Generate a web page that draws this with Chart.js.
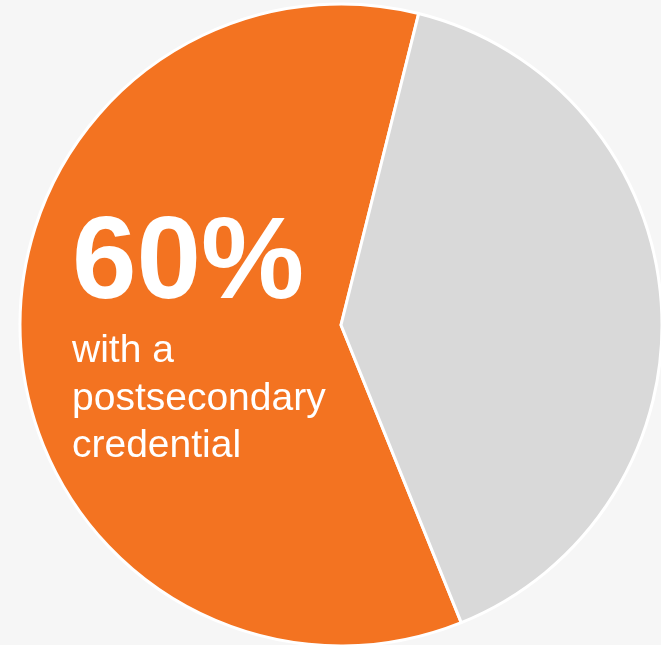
<!DOCTYPE html>
<html>
<head>
<meta charset="utf-8">
<script src="https://cdn.jsdelivr.net/npm/chart.js@4/dist/chart.umd.min.js"></script>
<style>
  html, body { margin: 0; padding: 0; background: #f6f6f6; }
  #wrap { position: relative; width: 661px; height: 645px; }
  canvas { display: block; }
</style>
</head>
<body>
<div id="wrap"><canvas id="c" width="661" height="645"></canvas></div>
<script>
const categories = ["With a postsecondary credential", "Without a postsecondary credential"];
const values = [60, 40];
const sliceColors = ["#f37321", "#d9d9d9"];
const bigLabel = "60%";
const subLabelLines = ["with a", "postsecondary", "credential"];

const textPlugin = {
  id: 'centerText',
  afterDatasetsDraw(chart) {
    const ctx = chart.ctx;
    ctx.save();
    ctx.fillStyle = '#ffffff';
    ctx.textAlign = 'left';
    ctx.textBaseline = 'alphabetic';
    ctx.font = 'bold 116px "Liberation Sans", Arial, sans-serif';
    ctx.fillText(bigLabel, 72, 298);
    ctx.font = '39px "Liberation Sans", Arial, sans-serif';
    const baselines = [362, 410, 457];
    subLabelLines.forEach((t, i) => ctx.fillText(t, 72, baselines[i]));
    ctx.restore();
  }
};

new Chart(document.getElementById('c'), {
  type: 'pie',
  data: {
    labels: categories,
    datasets: [{
      data: values,
      backgroundColor: sliceColors,
      borderColor: '#ffffff',
      borderWidth: 3,
      radius: 321
    }]
  },
  options: {
    responsive: false,
    animation: false,
    rotation: 158,
    layout: { padding: { left: 21, right: 0, top: 5, bottom: 0 } },
    plugins: { legend: { display: false }, tooltip: { enabled: false } }
  },
  plugins: [textPlugin]
});
</script>
</body>
</html>
